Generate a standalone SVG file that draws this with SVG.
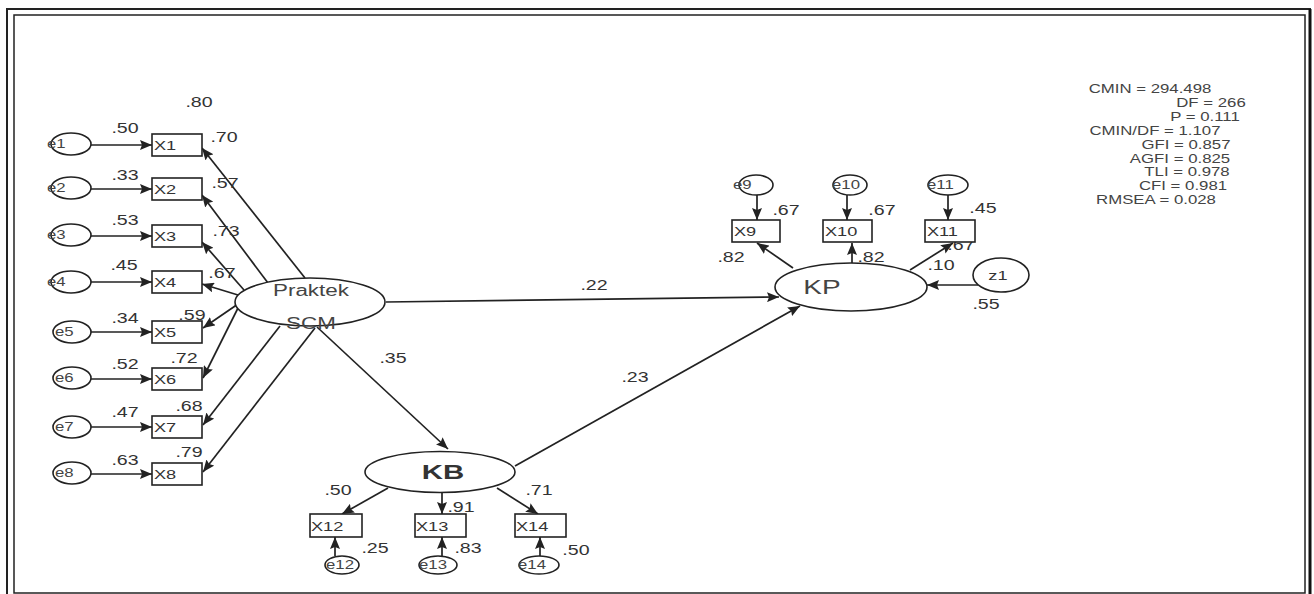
<svg xmlns="http://www.w3.org/2000/svg" width="1314" height="594" viewBox="0 0 1314 594">
  <style>
    .frame { fill: none; stroke: #222; }
    .node { fill: #fff; stroke: #222; stroke-width: 1.6; }
    .path { stroke: #222; stroke-width: 1.7; fill: none; marker-end: url(#ah); }
    text { font-family: "Liberation Sans", Arial, sans-serif; fill: #333;
           transform-box: fill-box; transform: scaleX(1.4); }
    .c { text-anchor: middle; transform-origin: center; }
    .l { text-anchor: start; transform-origin: left center; }
    .w { font-size: 14px; }
    .v { font-size: 13px; }
    .s { font-size: 12px; fill: #444; }
    .lat { font-size: 16px; fill: #444; }
    .big { font-size: 20px; fill: #444; }
    .bold { font-size: 21px; font-weight: bold; fill: #333; }
  </style>
  <defs>
    <marker id="ah" markerUnits="userSpaceOnUse" markerWidth="13" markerHeight="10" refX="12" refY="5" orient="auto">
      <path d="M0,0 L12,5 L0,10 L2,5 z" fill="#222"/>
    </marker>
  </defs>

  <rect width="1314" height="594" fill="#fff"/>

  <!-- double frame -->
  <g id="frame">
    <path class="frame" stroke-width="2" d="M7,596 V9 H1310 V596"/>
    <line x1="1310" y1="9" x2="1310" y2="596" stroke="#111" stroke-width="3"/>
    <rect class="frame" x="14" y="15" width="1291" height="578" stroke-width="1.5"/>
  </g>

  <!-- connectors -->
  <g id="connectors">
    <!-- errors to indicators X1..X8 -->
    <line class="path" x1="91" y1="145" x2="152" y2="145"/>
    <line class="path" x1="91" y1="189" x2="152" y2="189"/>
    <line class="path" x1="91" y1="236" x2="152" y2="236"/>
    <line class="path" x1="91" y1="282" x2="152" y2="282"/>
    <line class="path" x1="91" y1="332" x2="152" y2="332"/>
    <line class="path" x1="91" y1="379" x2="152" y2="379"/>
    <line class="path" x1="91" y1="427" x2="152" y2="427"/>
    <line class="path" x1="91" y1="474" x2="152" y2="474"/>
    <!-- Praktek SCM to X1..X8 -->
    <line class="path" x1="305" y1="278" x2="202" y2="148"/>
    <line class="path" x1="268" y1="283" x2="202" y2="195"/>
    <line class="path" x1="244" y1="290" x2="202" y2="242"/>
    <line class="path" x1="238" y1="295" x2="202" y2="284"/>
    <line class="path" x1="238" y1="304" x2="203" y2="328"/>
    <line class="path" x1="238" y1="308" x2="203" y2="378"/>
    <line class="path" x1="280" y1="326" x2="203" y2="425"/>
    <line class="path" x1="315" y1="328" x2="203" y2="472"/>
    <!-- structural paths -->
    <line class="path" x1="317" y1="327" x2="448" y2="449"/>
    <line class="path" x1="386" y1="302" x2="779" y2="297"/>
    <line class="path" x1="515" y1="466" x2="800" y2="306"/>
    <line class="path" x1="978" y1="285" x2="927" y2="285"/>
    <!-- KP to X9..X11 -->
    <line class="path" x1="793" y1="268" x2="757" y2="243"/>
    <line class="path" x1="852" y1="263" x2="852" y2="243"/>
    <line class="path" x1="910" y1="270" x2="953" y2="243"/>
    <line class="path" x1="757" y1="195" x2="757" y2="220"/>
    <line class="path" x1="847" y1="195" x2="847" y2="220"/>
    <line class="path" x1="948" y1="195" x2="948" y2="220"/>
    <!-- KB to X12..X14 -->
    <line class="path" x1="388" y1="488" x2="342" y2="514"/>
    <line class="path" x1="442" y1="492" x2="442" y2="514"/>
    <line class="path" x1="497" y1="488" x2="538" y2="514"/>
    <line class="path" x1="335" y1="556" x2="335" y2="537"/>
    <line class="path" x1="442" y1="556" x2="442" y2="537"/>
    <line class="path" x1="540" y1="556" x2="540" y2="537"/>
  </g>

  <!-- coefficient labels -->
  <g id="labels">
    <text class="c w" x="125" y="133">.50</text>
    <text class="c w" x="125" y="180">.33</text>
    <text class="c w" x="125" y="225">.53</text>
    <text class="c w" x="124" y="270">.45</text>
    <text class="c w" x="125" y="323">.34</text>
    <text class="c w" x="125" y="369">.52</text>
    <text class="c w" x="125" y="417">.47</text>
    <text class="c w" x="125" y="465">.63</text>
    <text class="c w" x="199" y="107">.80</text>
    <text class="c w" x="224" y="142">.70</text>
    <text class="c w" x="225" y="188">.57</text>
    <text class="c w" x="226" y="236">.73</text>
    <text class="c w" x="222" y="278">.67</text>
    <text class="c w" x="192" y="320">.59</text>
    <text class="c w" x="184" y="363">.72</text>
    <text class="c w" x="189" y="411">.68</text>
    <text class="c w" x="189" y="457">.79</text>
    <text class="c w" x="393" y="363">.35</text>
    <text class="c w" x="594" y="290">.22</text>
    <text class="c w" x="635" y="382">.23</text>
    <text class="c w" x="786" y="215">.67</text>
    <text class="c w" x="882" y="215">.67</text>
    <text class="c w" x="983" y="213">.45</text>
    <text class="c w" x="731" y="262">.82</text>
    <text class="c w" x="871" y="262">.82</text>
    <text class="c w" x="961" y="250">.67</text>
    <text class="c w" x="941" y="270">.10</text>
    <text class="c w" x="986" y="309">.55</text>
    <text class="c w" x="338" y="495">.50</text>
    <text class="c w" x="461" y="512">.91</text>
    <text class="c w" x="539" y="495">.71</text>
    <text class="c w" x="375" y="553">.25</text>
    <text class="c w" x="468" y="553">.83</text>
    <text class="c w" x="576" y="555">.50</text>
  </g>

  <!-- error terms e1..e8 -->
  <g id="e1"><ellipse class="node" cx="71" cy="144" rx="20" ry="11"/><text class="l s" x="47" y="148">e1</text></g>
  <g id="e2"><ellipse class="node" cx="71" cy="188" rx="20" ry="11"/><text class="l s" x="47" y="192">e2</text></g>
  <g id="e3"><ellipse class="node" cx="71" cy="235" rx="20" ry="11"/><text class="l s" x="47" y="239">e3</text></g>
  <g id="e4"><ellipse class="node" cx="71" cy="282" rx="20" ry="11"/><text class="l s" x="47" y="286">e4</text></g>
  <g id="e5"><ellipse class="node" cx="72" cy="332" rx="19" ry="11"/><text class="l s" x="55" y="336">e5</text></g>
  <g id="e6"><ellipse class="node" cx="72" cy="378" rx="19" ry="11"/><text class="l s" x="55" y="382">e6</text></g>
  <g id="e7"><ellipse class="node" cx="72" cy="427" rx="19" ry="11"/><text class="l s" x="55" y="431">e7</text></g>
  <g id="e8"><ellipse class="node" cx="72" cy="473" rx="19" ry="11"/><text class="l s" x="55" y="477">e8</text></g>

  <!-- indicators X1..X8 -->
  <g id="X1"><rect class="node" x="152" y="134" width="50" height="22"/><text class="l v" x="154" y="150">X1</text></g>
  <g id="X2"><rect class="node" x="152" y="178" width="50" height="22"/><text class="l v" x="154" y="194">X2</text></g>
  <g id="X3"><rect class="node" x="152" y="225" width="50" height="22"/><text class="l v" x="154" y="241">X3</text></g>
  <g id="X4"><rect class="node" x="152" y="271" width="50" height="22"/><text class="l v" x="154" y="287">X4</text></g>
  <g id="X5"><rect class="node" x="152" y="321" width="50" height="22"/><text class="l v" x="154" y="337">X5</text></g>
  <g id="X6"><rect class="node" x="152" y="368" width="50" height="22"/><text class="l v" x="154" y="384">X6</text></g>
  <g id="X7"><rect class="node" x="152" y="416" width="50" height="22"/><text class="l v" x="154" y="432">X7</text></g>
  <g id="X8"><rect class="node" x="152" y="463" width="50" height="22"/><text class="l v" x="154" y="479">X8</text></g>

  <!-- latent variables -->
  <g id="PraktekSCM">
    <ellipse class="node" cx="310" cy="302" rx="75" ry="24"/>
    <text class="c lat" x="311" y="296">Praktek</text>
    <text class="c lat" x="311" y="329">SCM</text>
  </g>
  <g id="KB">
    <ellipse class="node" cx="440" cy="472" rx="75" ry="20.5"/>
    <text class="c bold" x="443" y="479">KB</text>
  </g>
  <g id="KP">
    <ellipse class="node" cx="851" cy="287" rx="76" ry="24"/>
    <text class="c big" x="822" y="294">KP</text>
  </g>
  <g id="z1">
    <ellipse class="node" cx="1001" cy="275" rx="28" ry="17"/>
    <text class="c v" x="998" y="280">z1</text>
  </g>

  <!-- KP indicators -->
  <g id="e9"><ellipse class="node" cx="756" cy="185" rx="17" ry="10"/><text class="l s" x="733" y="189">e9</text></g>
  <g id="e10"><ellipse class="node" cx="850" cy="185" rx="17" ry="10"/><text class="l s" x="832" y="189">e10</text></g>
  <g id="e11"><ellipse class="node" cx="948" cy="185" rx="20" ry="10"/><text class="l s" x="927" y="189">e11</text></g>
  <g id="X9"><rect class="node" x="732" y="220" width="48" height="22"/><text class="l v" x="734" y="236">X9</text></g>
  <g id="X10"><rect class="node" x="823" y="220" width="49" height="22"/><text class="l v" x="825" y="236">X10</text></g>
  <g id="X11"><rect class="node" x="925" y="220" width="50" height="22"/><text class="l v" x="927" y="236">X11</text></g>

  <!-- KB indicators -->
  <g id="X12"><rect class="node" x="310" y="514" width="52" height="23"/><text class="l v" x="311" y="531">X12</text></g>
  <g id="X13"><rect class="node" x="415" y="514" width="51" height="23"/><text class="l v" x="416" y="531">X13</text></g>
  <g id="X14"><rect class="node" x="515" y="514" width="51" height="23"/><text class="l v" x="516" y="531">X14</text></g>
  <g id="e12"><ellipse class="node" cx="342" cy="565" rx="17" ry="9"/><text class="l s" x="326" y="569">e12</text></g>
  <g id="e13"><ellipse class="node" cx="438" cy="565" rx="19" ry="9"/><text class="l s" x="419" y="569">e13</text></g>
  <g id="e14"><ellipse class="node" cx="539" cy="565" rx="20" ry="9"/><text class="l s" x="518" y="569">e14</text></g>

  <!-- fit statistics -->
  <g id="fit">
    <text class="c s" x="1150" y="93">CMIN = 294.498</text>
    <text class="c s" x="1211" y="107">DF = 266</text>
    <text class="c s" x="1205" y="121">P = 0.111</text>
    <text class="c s" x="1155" y="135">CMIN/DF = 1.107</text>
    <text class="c s" x="1186" y="149">GFI = 0.857</text>
    <text class="c s" x="1180" y="163">AGFI = 0.825</text>
    <text class="c s" x="1187" y="176">TLI = 0.978</text>
    <text class="c s" x="1183" y="190">CFI = 0.981</text>
    <text class="c s" x="1156" y="204">RMSEA = 0.028</text>
  </g>
</svg>
